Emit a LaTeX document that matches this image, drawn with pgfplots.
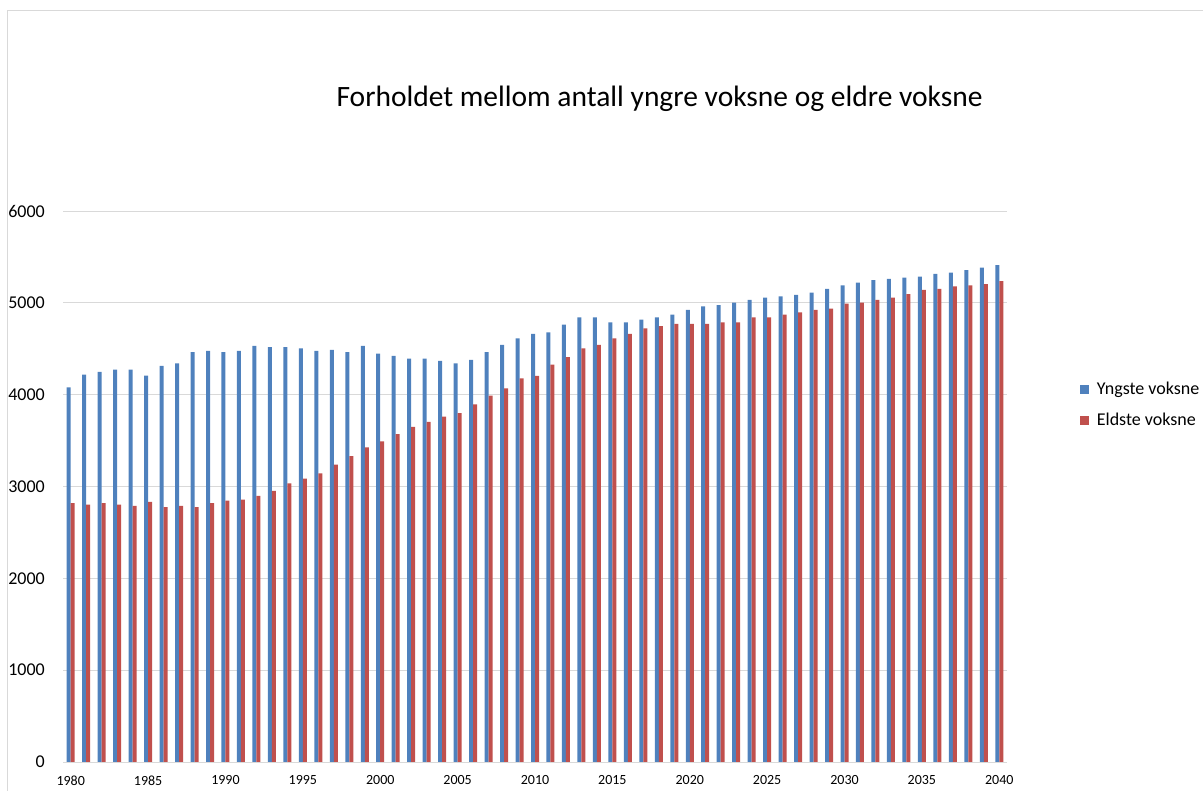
\documentclass[border=0pt]{standalone}
\usepackage{pgfplots}
\pgfplotsset{compat=1.18}
\usepackage{pgfplotstable}
\usepackage{fontspec}
\setmainfont{Carlito}
\definecolor{ybar}{HTML}{4F81BD}
\definecolor{ebar}{HTML}{C0504D}
\definecolor{gridc}{HTML}{D9D9D9}
\pgfplotstableread{
year young old
1980 4080 2818
1981 4218 2803
1982 4248 2818
1983 4273 2803
1984 4273 2789
1985 4207 2833
1986 4313 2774
1987 4342 2789
1988 4462 2774
1989 4477 2818
1990 4462 2847
1991 4477 2858
1992 4532 2898
1993 4517 2953
1994 4517 3033
1995 4503 3087
1996 4477 3142
1997 4488 3237
1998 4462 3331
1999 4532 3426
2000 4448 3490
2001 4422 3570
2002 4393 3650
2003 4393 3705
2004 4367 3760
2005 4342 3800
2006 4378 3894
2007 4462 3989
2008 4543 4069
2009 4612 4178
2010 4663 4204
2011 4678 4328
2012 4762 4408
2013 4842 4503
2014 4842 4543
2015 4787 4612
2016 4787 4663
2017 4816 4721
2018 4842 4746
2019 4871 4772
2020 4922 4772
2021 4962 4772
2022 4976 4787
2023 5002 4787
2024 5031 4842
2025 5057 4842
2026 5071 4871
2027 5086 4896
2028 5112 4922
2029 5151 4937
2030 5191 4991
2031 5221 5002
2032 5246 5031
2033 5260 5057
2034 5275 5096
2035 5286 5140
2036 5315 5151
2037 5329 5180
2038 5355 5191
2039 5384 5205
2040 5410 5235
}\datatable
\begin{document}
\begin{tikzpicture}
\useasboundingbox (0,0) rectangle (1203pt,791pt);
\draw[gridc, line width=0.8pt] (7.5pt,-20pt) rectangle (1230pt,781pt);
\begin{axis}[
  at={(63pt,29pt)}, anchor=south west,
  scale only axis,
  width=944pt, height=551pt,
  ybar=0pt, bar width=4pt,
  xmin=1979.5, xmax=2040.5,
  ymin=0, ymax=6000,
  xtick={1980,1985,...,2040},
  ytick={0,1000,...,6000},
  major tick length=0pt,
  axis line style={draw=none},
  ymajorgrids, grid style={gridc, line width=0.8pt},
  /pgf/number format/1000 sep={},
  /pgf/number format/assume math mode=true,
  xticklabel style={font=\fontsize{14}{16}\selectfont, anchor=center, inner sep=0pt, yshift=-18.5pt},
  yticklabel style={font=\fontsize{18}{20}\selectfont, anchor=east, inner sep=0pt, xshift=-18pt},
  title={Forholdet mellom antall yngre voksne og eldre voksne},
  title style={font=\fontsize{29.5}{33}\selectfont, at={(0.632,1.1925)}, anchor=center, inner sep=0pt},
  legend style={draw=none, fill=none, at={(1.077,0.648)}, anchor=west, inner sep=0pt,
    font=\fontsize{18}{20}\selectfont, row sep=13pt,
    /tikz/every odd column/.append style={column sep=6pt}},
  legend cell align=left,
  legend image code/.code={\fill[#1] (0pt,-4.5pt) rectangle (9pt,4.5pt);},
]
\addplot[fill=ybar, draw=none] table[x=year, y=young] {\datatable};
\addplot[fill=ebar, draw=none] table[x=year, y=old] {\datatable};
\legend{Yngste voksne, Eldste voksne}
\end{axis}
\end{tikzpicture}
\end{document}
